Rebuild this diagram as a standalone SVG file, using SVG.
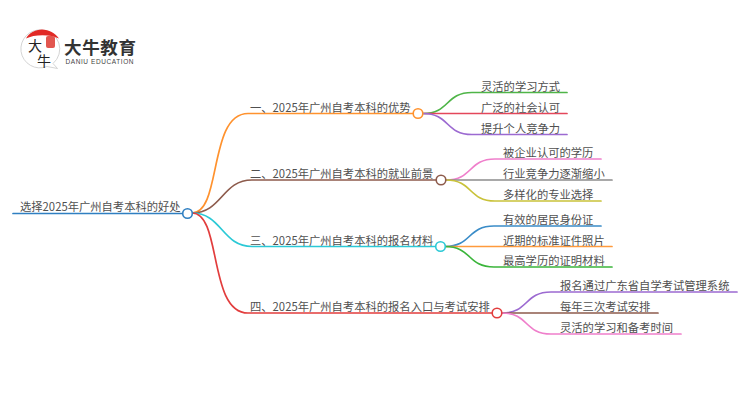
<svg xmlns="http://www.w3.org/2000/svg" width="750" height="410" viewBox="0 0 750 410">
<style>
text{font-family:"Noto Sans CJK SC","Noto Sans",sans-serif;font-size:11.3px;fill:#505050}
.l{fill:none;stroke-width:1.7;stroke-linecap:round}
.n{fill:#fff;stroke-width:1.6}
.k{font-size:14px;fill:#222}
</style>
<rect width="750" height="410" fill="#fff"/>
<g id="logo">
<path d="M42 30A19 19 0 1 0 47 66.500L57.500 68.500L53 63.500A19 19 0 0 0 42 30Z" fill="#fff" stroke="#c9c9c9" stroke-width="0.8"/>
<path d="M26 38.500C29 33 35 29.500 42 29.500C49 29.500 55 33 59 38.500C51 34 34 34 26 38.500Z" fill="#e12a26"/>
<rect x="46" y="36" width="9" height="12" rx="2" fill="#e2564f"/>
<text x="28" y="50.500" class="k">大</text>
<text x="37" y="66" class="k">牛</text>
<text x="64" y="54" style="font-size:17.500px;font-weight:700;fill:#333" textLength="72">大牛教育</text>
<text x="65.500" y="64" style="font-size:6.500px;fill:#444;font-family:'Liberation Sans'" textLength="68">DANIU EDUCATION</text>
</g>
<g id="connectors">
<path class="l" stroke="#2f7fc1" d="M13 213.500H182"/>
<path class="l" stroke="#ff922e" d="M192 213C222 213 208 113.500 248 113.500H413"/>
<path class="l" stroke="#8d5b4c" d="M192 213C222 213 222 180 252 180H436"/>
<path class="l" stroke="#2bc9d6" d="M192 213C222 213 222 246.500 252 246.500H435"/>
<path class="l" stroke="#e23d3d" d="M192 213C222 213 208 313 248 313H492"/>
<path class="l" stroke="#4fb548" d="M423 113.500C450 113.500 445 92.500 472 92.500H567"/>
<path class="l" stroke="#e4475b" d="M423 113.500H567"/>
<path class="l" stroke="#9c6ad1" d="M423 113.500C450 113.500 445 134.500 472 134.500H567"/>
<path class="l" stroke="#ef7fcb" d="M446 180C473 180 468 159 495 159H601"/>
<path class="l" stroke="#8c8c8c" d="M446 180H612"/>
<path class="l" stroke="#c9c23a" d="M446 180C473 180 468 201 495 201H601"/>
<path class="l" stroke="#3a8cc8" d="M445 246.500C472 246.500 467 226 494 226H601"/>
<path class="l" stroke="#ff9a3c" d="M445 246.500H612"/>
<path class="l" stroke="#3bb53b" d="M445 246.500C472 246.500 467 267 494 267H612"/>
<path class="l" stroke="#9c6ad1" d="M502 313C529 313 524 292 551 292H737"/>
<path class="l" stroke="#8d5b4c" d="M502 313H658"/>
<path class="l" stroke="#ef7fcb" d="M502 313C529 313 524 334 551 334H681"/>
</g>
<g id="root"><text x="20" y="211">选择2025年广州自考本科的好处</text><circle class="n" stroke="#2f7fc1" cx="187.500" cy="213.500" r="4.800"/></g>
<g id="b1"><text x="250" y="111.500">一、2025年广州自考本科的优势</text><circle class="n" stroke="#ff922e" cx="418" cy="113.500" r="4.800"/></g>
<g id="b2"><text x="250" y="178">二、2025年广州自考本科的就业前景</text><circle class="n" stroke="#8d5b4c" cx="441" cy="180" r="4.800"/></g>
<g id="b3"><text x="250" y="244.500">三、2025年广州自考本科的报名材料</text><circle class="n" stroke="#2bc9d6" cx="440.500" cy="246.500" r="4.800"/></g>
<g id="b4"><text x="250" y="311">四、2025年广州自考本科的报名入口与考试安排</text><circle class="n" stroke="#e23d3d" cx="497" cy="313" r="4.800"/></g>
<g id="c11"><text x="481" y="90.500">灵活的学习方式</text></g>
<g id="c12"><text x="481" y="111.500">广泛的社会认可</text></g>
<g id="c13"><text x="481" y="132.500">提升个人竞争力</text></g>
<g id="c21"><text x="503" y="157">被企业认可的学历</text></g>
<g id="c22"><text x="503" y="178">行业竞争力逐渐缩小</text></g>
<g id="c23"><text x="503" y="199">多样化的专业选择</text></g>
<g id="c31"><text x="503" y="224">有效的居民身份证</text></g>
<g id="c32"><text x="503" y="244.500">近期的标准证件照片</text></g>
<g id="c33"><text x="503" y="265">最高学历的证明材料</text></g>
<g id="c41"><text x="560" y="290">报名通过广东省自学考试管理系统</text></g>
<g id="c42"><text x="560" y="311">每年三次考试安排</text></g>
<g id="c43"><text x="560" y="332">灵活的学习和备考时间</text></g>
</svg>
